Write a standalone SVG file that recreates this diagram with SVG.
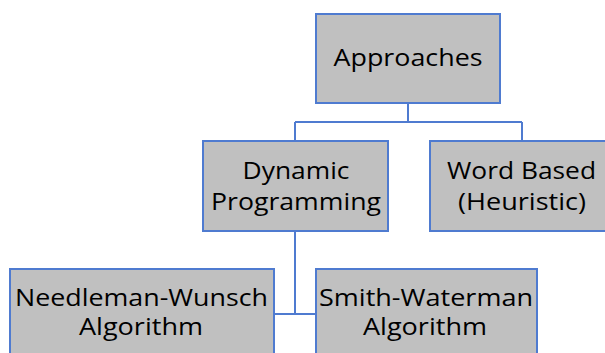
<svg xmlns="http://www.w3.org/2000/svg" width="605" height="353" viewBox="0 0 605 353">
  <style>
    .box { fill: #c0c0c0; stroke: #4f7bd0; stroke-width: 2; }
    .edge { fill: none; stroke: #4f7bd0; stroke-width: 2; }
    .label { font-family: "Open Sans", "DejaVu Sans", sans-serif; font-size: 23px; fill: #000; text-anchor: middle; }
  </style>
  <rect width="605" height="353" fill="#ffffff"/>

  <g id="connectors">
    <path class="edge" d="M408,103 V122 M295,122 H522 M295,122 V141 M522,122 V141"/>
    <path class="edge" d="M295,231 V314 M274,314 H316"/>
  </g>

  <g id="approaches">
    <rect class="box" x="316" y="14" width="184" height="89"/>
    <text class="label" x="408" y="66" textLength="149" lengthAdjust="spacingAndGlyphs">Approaches</text>
  </g>

  <g id="dynamic-programming">
    <rect class="box" x="203" y="141" width="185" height="90"/>
    <text class="label" x="296" y="179" textLength="107" lengthAdjust="spacingAndGlyphs">Dynamic</text>
    <text class="label" x="296" y="210" textLength="170" lengthAdjust="spacingAndGlyphs">Programming</text>
  </g>

  <g id="word-based">
    <rect class="box" x="430" y="141" width="184" height="90"/>
    <text class="label" x="521.5" y="179" textLength="149" lengthAdjust="spacingAndGlyphs">Word Based</text>
    <text class="label" x="522" y="210" textLength="128" lengthAdjust="spacingAndGlyphs">(Heuristic)</text>
  </g>

  <g id="needleman-wunsch">
    <rect class="box" x="10" y="269" width="264" height="92"/>
    <text class="label" x="141.5" y="306" textLength="253" lengthAdjust="spacingAndGlyphs">Needleman-Wunsch</text>
    <text class="label" x="141" y="335" textLength="124" lengthAdjust="spacingAndGlyphs">Algorithm</text>
  </g>

  <g id="smith-waterman">
    <rect class="box" x="316" y="269" width="221" height="92"/>
    <text class="label" x="426" y="306" textLength="214" lengthAdjust="spacingAndGlyphs">Smith-Waterman</text>
    <text class="label" x="425" y="335" textLength="124" lengthAdjust="spacingAndGlyphs">Algorithm</text>
  </g>
</svg>
